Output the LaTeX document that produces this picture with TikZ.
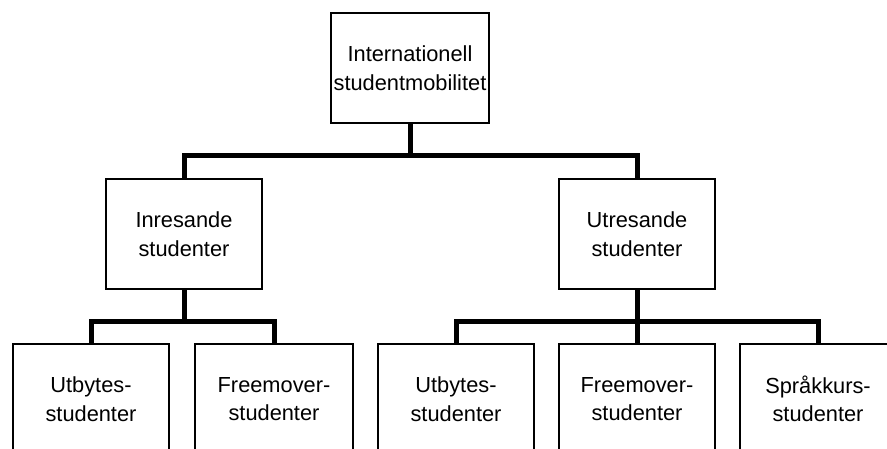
\documentclass[tikz,border=0pt]{standalone}
\usepackage{fontspec}
\setmainfont{Liberation Sans}
\begin{document}
\begin{tikzpicture}[x=1pt,y=-1pt,
  box/.style={draw, line width=1.8pt, minimum width=156pt, minimum height=110pt, inner sep=0pt,
    align=center, font=\fontsize{21.8}{28.5}\selectfont},
  conn/.style={line width=5pt, line join=miter}]
\useasboundingbox (0,0) rectangle (887,448);
\clip (0,0) rectangle (887,448);
\fill[white] (0,0) rectangle (887,448);
\node[box, minimum width=158pt] (top) at (410,68) {Internationell\\studentmobilitet};
\node[box] (in) at (184,234) {Inresande\\studenter};
\node[box] (ut) at (637,234) {Utresande\\studenter};
\node[box] (b1) at (91,399) {Utbytes-\\studenter};
\node[box, minimum width=158pt] (b2) at (274,399) {Freemover-\\studenter};
\node[box] (b3) at (456,399) {Utbytes-\\studenter};
\node[box] (b4) at (637,399) {Freemover-\\studenter};
\node[box] (b5) at (818,399) {Språkkurs-\\studenter};
\coordinate (j1) at (410,155);
\coordinate (j2) at (184,321);
\coordinate (j3) at (637,321);
\draw[conn] (top.south) -- (j1);
\draw[conn] (in.north) -- (in.north |- j1) -- (ut.north |- j1) -- (ut.north);
\draw[conn] (in.south) -- (j2);
\draw[conn] (b1.north) -- (b1.north |- j2) -- (b2.north |- j2) -- (b2.north);
\draw[conn] (ut.south) -- (b4.north);
\draw[conn] (b3.north) -- (b3.north |- j3) -- (b5.north |- j3) -- (b5.north);
\end{tikzpicture}
\end{document}
